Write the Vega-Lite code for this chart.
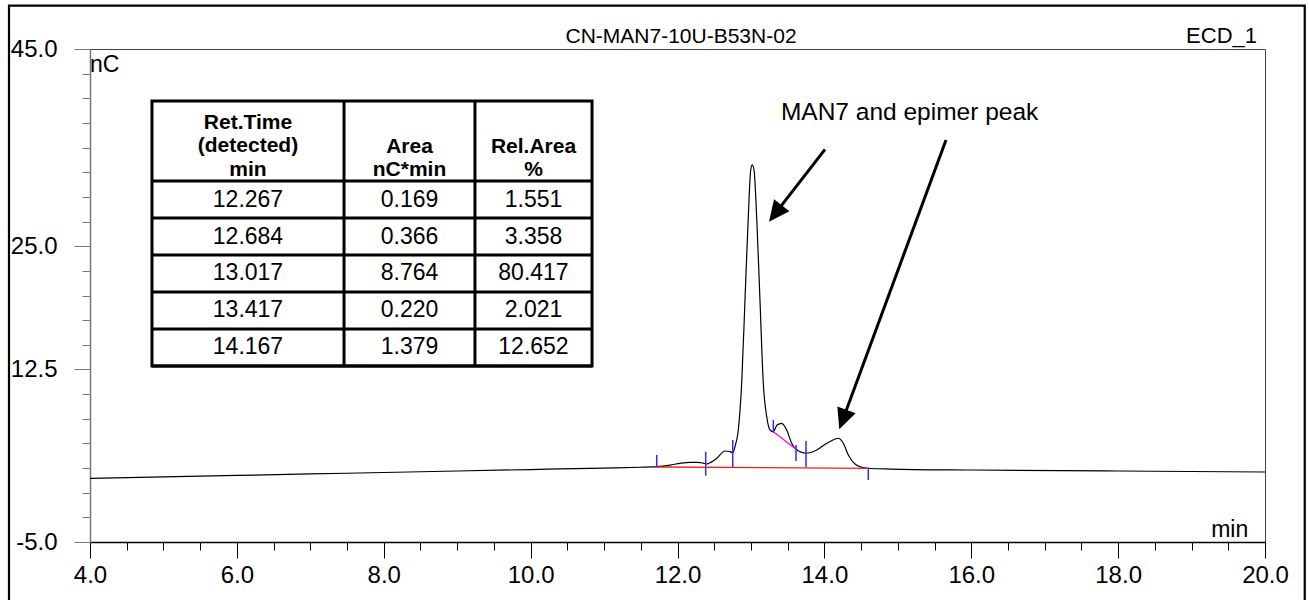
{
  "$schema": "https://vega.github.io/schema/vega-lite/v6.json",
  "width": 1175,
  "height": 493,
  "autosize": {"type": "none"},
  "padding": {"left": 90, "top": 49, "right": 44, "bottom": 58},
  "background": "white",
  "config": {
    "font": "Liberation Sans",
    "view": {"stroke": "#444", "strokeWidth": 1},
    "text": {"font": "Liberation Sans", "color": "#000"}
  },
  "datasets": {
    "one": [{}],
    "trace": [
      {"t": 4.0, "v": 1.46}, {"t": 5.0, "v": 1.6}, {"t": 6.0, "v": 1.75}, {"t": 7.0, "v": 1.9},
      {"t": 8.0, "v": 2.05}, {"t": 9.0, "v": 2.2}, {"t": 10.0, "v": 2.35}, {"t": 11.0, "v": 2.5},
      {"t": 11.489, "v": 2.58}, {"t": 11.717, "v": 2.637}, {"t": 11.9, "v": 2.8}, {"t": 12.034, "v": 2.98},
      {"t": 12.17, "v": 3.08}, {"t": 12.279, "v": 3.08}, {"t": 12.35, "v": 3.0}, {"t": 12.398, "v": 2.91},
      {"t": 12.46, "v": 3.1}, {"t": 12.534, "v": 3.49}, {"t": 12.647, "v": 4.23}, {"t": 12.715, "v": 4.16},
      {"t": 12.752, "v": 4.06}, {"t": 12.783, "v": 4.67}, {"t": 12.828, "v": 6.36}, {"t": 12.874, "v": 11.13},
      {"t": 12.919, "v": 19.54}, {"t": 12.964, "v": 27.99}, {"t": 12.997, "v": 32.73}, {"t": 13.018, "v": 33.24},
      {"t": 13.042, "v": 32.73}, {"t": 13.078, "v": 27.99}, {"t": 13.123, "v": 19.54}, {"t": 13.168, "v": 11.13},
      {"t": 13.215, "v": 7.71}, {"t": 13.26, "v": 6.36}, {"t": 13.305, "v": 6.19}, {"t": 13.355, "v": 6.87},
      {"t": 13.419, "v": 7.04}, {"t": 13.487, "v": 6.36}, {"t": 13.555, "v": 5.01}, {"t": 13.614, "v": 4.4},
      {"t": 13.75, "v": 4.0}, {"t": 13.896, "v": 4.33}, {"t": 14.032, "v": 5.01}, {"t": 14.118, "v": 5.35},
      {"t": 14.19, "v": 5.52}, {"t": 14.258, "v": 5.01}, {"t": 14.326, "v": 3.82}, {"t": 14.417, "v": 2.91},
      {"t": 14.508, "v": 2.58}, {"t": 14.598, "v": 2.48}, {"t": 14.894, "v": 2.4}, {"t": 16.0, "v": 2.3},
      {"t": 18.0, "v": 2.2}, {"t": 20.0, "v": 2.1}
    ],
    "delims": [
      {"t": 11.717, "lo": 2.576, "hi": 3.824},
      {"t": 12.384, "lo": 1.724, "hi": 4.158},
      {"t": 12.752, "lo": 2.576, "hi": 5.345},
      {"t": 13.305, "lo": 6.085, "hi": 7.373},
      {"t": 13.614, "lo": 3.215, "hi": 4.838},
      {"t": 13.75, "lo": 2.576, "hi": 5.243},
      {"t": 14.598, "lo": 1.288, "hi": 2.535}
    ],
    "peaks": [
      {"no": 1, "rt": 12.267, "area": 0.169, "rel": 1.551},
      {"no": 2, "rt": 12.684, "area": 0.366, "rel": 3.358},
      {"no": 3, "rt": 13.017, "area": 8.764, "rel": 80.417},
      {"no": 4, "rt": 13.417, "area": 0.22, "rel": 2.021},
      {"no": 5, "rt": 14.167, "area": 1.379, "rel": 12.652}
    ]
  },
  "layer": [
    {
      "layer": [
        {
          "data": {"name": "one"},
          "mark": {"type": "rect", "fill": "transparent", "stroke": "#000", "strokeWidth": 2.2},
          "encoding": {
            "x": {"datum": 2.897, "type": "quantitative", "scale": {"domain": [4, 20], "nice": false, "zero": false}, "axis": null},
            "x2": {"datum": 20.541},
            "y": {"datum": 49.39, "type": "quantitative", "scale": {"domain": [-5, 45], "nice": false, "zero": false}, "axis": null},
            "y2": {"datum": -11.2}
          }
        },
        {
          "data": {"name": "trace"},
          "mark": {"type": "line", "color": "#000", "strokeWidth": 1.2, "interpolate": "monotone"},
          "encoding": {
            "x": {"field": "t", "type": "quantitative", "scale": {"domain": [4, 20], "nice": false, "zero": false},
              "axis": {"orient": "bottom", "values": [4, 6, 8, 10, 12, 14, 16, 18, 20], "format": ".1f", "tickSize": 16, "tickColor": "#000", "tickWidth": 1, "domainColor": "#000", "domainWidth": 1.5, "labelFontSize": 24, "labelColor": "#000", "labelPadding": 5, "labelFont": "Liberation Sans", "labelFlush": false, "labelOverlap": false, "grid": false, "title": null}},
            "y": {"field": "v", "type": "quantitative", "scale": {"domain": [-5, 45], "nice": false, "zero": false},
              "axis": {"orient": "left", "values": [-5, 12.5, 25, 45], "labelExpr": "datum.value < 0 ? '-' + format(-datum.value, '.1f') : format(datum.value, '.1f')", "tickSize": 16, "tickColor": "#777", "tickWidth": 1, "domainColor": "#777", "domainWidth": 1.5, "labelFontSize": 24, "labelColor": "#000", "labelPadding": 17, "labelFont": "Liberation Sans", "labelFlush": false, "labelOverlap": false, "grid": false, "title": null}}
          }
        },
        {
          "data": {"name": "delims"},
          "mark": {"type": "rule", "color": "#2b2bff", "strokeWidth": 1.5},
          "encoding": {
            "x": {"field": "t", "type": "quantitative", "scale": {"domain": [4, 20], "nice": false, "zero": false},
              "axis": {"orient": "bottom", "values": [4, 4.5, 5, 5.5, 6, 6.5, 7, 7.5, 8, 8.5, 9, 9.5, 10, 10.5, 11, 11.5, 12, 12.5, 13, 13.5, 14, 14.5, 15, 15.5, 16, 16.5, 17, 17.5, 18, 18.5, 19, 19.5, 20], "tickSize": 8, "tickColor": "#000", "tickWidth": 1, "labels": false, "domain": false, "grid": false, "title": null}},
            "y": {"field": "lo", "type": "quantitative", "scale": {"domain": [-5, 45], "nice": false, "zero": false},
              "axis": {"orient": "left", "values": [-5, -2.5, 0, 2.5, 5, 7.5, 10, 12.5, 15, 17.5, 20, 22.5, 25, 27.5, 30, 32.5, 35, 37.5, 40, 42.5, 45], "tickSize": 8, "tickColor": "#777", "tickWidth": 1, "labels": false, "domain": false, "grid": false, "title": null}},
            "y2": {"field": "hi"}
          }
        },
        {
          "data": {"name": "one"},
          "mark": {"type": "rule", "color": "#ee2020", "strokeWidth": 1.3},
          "encoding": {
            "x": {"datum": 11.717, "type": "quantitative", "axis": null},
            "x2": {"datum": 14.598},
            "y": {"datum": 2.607, "type": "quantitative", "axis": null},
            "y2": {"datum": 2.475}
          }
        },
        {
          "data": {"name": "one"},
          "mark": {"type": "rule", "color": "#ff00ff", "strokeWidth": 1.3},
          "encoding": {
            "x": {"datum": 13.305, "type": "quantitative", "axis": null},
            "x2": {"datum": 13.614},
            "y": {"datum": 6.187, "type": "quantitative", "axis": null},
            "y2": {"datum": 4.402}
          }
        },
        {
          "data": {"name": "one"},
          "mark": {"type": "rule", "color": "#000", "strokeWidth": 3},
          "encoding": {
            "x": {"datum": 14.0085, "type": "quantitative", "axis": null},
            "x2": {"datum": 13.3455},
            "y": {"datum": 34.828, "type": "quantitative", "axis": null},
            "y2": {"datum": 28.448}
          }
        },
        {
          "data": {"name": "one"},
          "mark": {"type": "rule", "color": "#000", "strokeWidth": 3},
          "encoding": {
            "x": {"datum": 15.6562, "type": "quantitative", "axis": null},
            "x2": {"datum": 14.2597},
            "y": {"datum": 35.771, "type": "quantitative", "axis": null},
            "y2": {"datum": 7.576}
          }
        },
        {
          "data": {"name": "one"},
          "mark": {"type": "point", "shape": "M0,0L-0.75,1.6L0.75,1.6Z", "filled": true, "color": "#000", "opacity": 1, "size": 676, "angle": 217.7},
          "encoding": {
            "x": {"datum": 13.246, "type": "quantitative", "axis": null},
            "y": {"datum": 27.485, "type": "quantitative", "axis": null}
          }
        },
        {
          "data": {"name": "one"},
          "mark": {"type": "point", "shape": "M0,0L-0.75,1.6L0.75,1.6Z", "filled": true, "color": "#000", "opacity": 1, "size": 676, "angle": 200.25},
          "encoding": {
            "x": {"datum": 14.2032, "type": "quantitative", "axis": null},
            "y": {"datum": 6.43, "type": "quantitative", "axis": null}
          }
        },
        {
          "data": {"name": "one"},
          "mark": {"type": "text", "text": "CN-MAN7-10U-B53N-02", "fontSize": 21, "align": "center", "baseline": "alphabetic"},
          "encoding": {
            "x": {"datum": 12.048, "type": "quantitative", "axis": null},
            "y": {"datum": 45.56, "type": "quantitative", "axis": null}
          }
        },
        {
          "data": {"name": "one"},
          "mark": {"type": "text", "text": "ECD_1", "fontSize": 22, "align": "right", "baseline": "alphabetic"},
          "encoding": {
            "x": {"datum": 19.891, "type": "quantitative", "axis": null},
            "y": {"datum": 45.56, "type": "quantitative", "axis": null}
          }
        },
        {
          "data": {"name": "one"},
          "mark": {"type": "text", "text": "nC", "fontSize": 23, "align": "left", "baseline": "alphabetic"},
          "encoding": {
            "x": {"datum": 4.0, "type": "quantitative", "axis": null},
            "y": {"datum": 42.667, "type": "quantitative", "axis": null}
          }
        },
        {
          "data": {"name": "one"},
          "mark": {"type": "text", "text": "min", "fontSize": 23, "align": "right", "baseline": "alphabetic"},
          "encoding": {
            "x": {"datum": 19.772, "type": "quantitative", "axis": null},
            "y": {"datum": -4.523, "type": "quantitative", "axis": null}
          }
        },
        {
          "data": {"name": "one"},
          "mark": {"type": "text", "text": "MAN7 and epimer peak", "fontSize": 24.5, "align": "center", "baseline": "middle"},
          "encoding": {
            "x": {"datum": 15.16, "type": "quantitative", "axis": null},
            "y": {"datum": 38.51, "type": "quantitative", "axis": null}
          }
        }
      ],
      "resolve": {"axis": {"x": "independent", "y": "independent"}}
    },
    {
      "layer": [
        {
          "data": {"name": "one"},
          "mark": {"type": "rect", "fill": "transparent", "stroke": "#000", "strokeWidth": 3},
          "encoding": {
            "x": {"datum": 4.844, "type": "quantitative", "axis": null},
            "x2": {"datum": 10.836},
            "y": {"datum": -1.662, "type": "quantitative", "scale": {"domain": [-3.0676, 10.2568], "reverse": true, "nice": false, "zero": false}, "axis": null},
            "y2": {"datum": 5.5}
          }
        },
        {
          "data": {"name": "one"},
          "mark": {"type": "rule", "color": "#000", "strokeWidth": 3},
          "encoding": {
            "x": {"datum": 4.844, "type": "quantitative", "axis": null},
            "x2": {"datum": 10.836},
            "y": {"datum": 0.5, "type": "quantitative", "axis": null}
          }
        },
        {
          "data": {"name": "peaks"},
          "mark": {"type": "rule", "color": "#000", "strokeWidth": 3, "yOffset": 18.5},
          "encoding": {
            "x": {"datum": 4.844, "type": "quantitative", "axis": null},
            "x2": {"datum": 10.836},
            "y": {"field": "no", "type": "quantitative", "axis": null}
          }
        },
        {
          "data": {"name": "one"},
          "mark": {"type": "rule", "color": "#000", "strokeWidth": 3},
          "encoding": {
            "x": {"datum": 7.459, "type": "quantitative", "axis": null},
            "y": {"datum": -1.662, "type": "quantitative", "axis": null},
            "y2": {"datum": 5.5}
          }
        },
        {
          "data": {"name": "one"},
          "mark": {"type": "rule", "color": "#000", "strokeWidth": 3},
          "encoding": {
            "x": {"datum": 9.242, "type": "quantitative", "axis": null},
            "y": {"datum": -1.662, "type": "quantitative", "axis": null},
            "y2": {"datum": 5.5}
          }
        },
        {
          "data": {"name": "one"},
          "mark": {"type": "text", "text": ["Ret.Time", "(detected)", "min"], "fontSize": 21, "fontWeight": "bold", "lineHeight": 23.5, "align": "center", "baseline": "middle"},
          "encoding": {
            "x": {"datum": 6.151, "type": "quantitative", "axis": null},
            "y": {"datum": -1.068, "type": "quantitative", "axis": null}
          }
        },
        {
          "data": {"name": "one"},
          "mark": {"type": "text", "text": ["Area", "nC*min"], "fontSize": 21, "fontWeight": "bold", "lineHeight": 23.5, "align": "center", "baseline": "middle"},
          "encoding": {
            "x": {"datum": 8.351, "type": "quantitative", "axis": null},
            "y": {"datum": -0.419, "type": "quantitative", "axis": null}
          }
        },
        {
          "data": {"name": "one"},
          "mark": {"type": "text", "text": ["Rel.Area", "%"], "fontSize": 21, "fontWeight": "bold", "lineHeight": 23.5, "align": "center", "baseline": "middle"},
          "encoding": {
            "x": {"datum": 10.039, "type": "quantitative", "axis": null},
            "y": {"datum": -0.419, "type": "quantitative", "axis": null}
          }
        },
        {
          "data": {"name": "peaks"},
          "mark": {"type": "text", "fontSize": 23, "align": "center", "baseline": "middle"},
          "encoding": {
            "x": {"datum": 6.151, "type": "quantitative", "axis": null},
            "y": {"field": "no", "type": "quantitative", "axis": null},
            "text": {"field": "rt", "type": "quantitative", "format": ".3f"}
          }
        },
        {
          "data": {"name": "peaks"},
          "mark": {"type": "text", "fontSize": 23, "align": "center", "baseline": "middle"},
          "encoding": {
            "x": {"datum": 8.351, "type": "quantitative", "axis": null},
            "y": {"field": "no", "type": "quantitative", "axis": null},
            "text": {"field": "area", "type": "quantitative", "format": ".3f"}
          }
        },
        {
          "data": {"name": "peaks"},
          "mark": {"type": "text", "fontSize": 23, "align": "center", "baseline": "middle"},
          "encoding": {
            "x": {"datum": 10.039, "type": "quantitative", "axis": null},
            "y": {"field": "no", "type": "quantitative", "axis": null},
            "text": {"field": "rel", "type": "quantitative", "format": ".3f"}
          }
        }
      ]
    }
  ],
  "resolve": {"scale": {"y": "independent"}}
}
